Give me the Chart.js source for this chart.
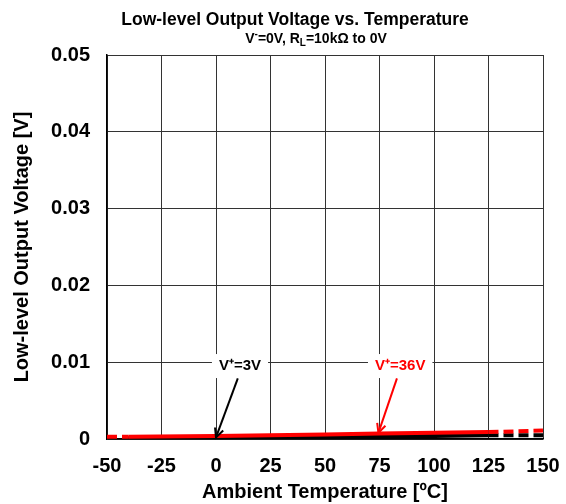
<!DOCTYPE html>
<html>
<head>
<meta charset="utf-8">
<script src="https://cdn.jsdelivr.net/npm/chart.js@4.4.1/dist/chart.umd.min.js"></script>
<style>
  html, body { margin: 0; padding: 0; background: #fff; }
  #wrap { width: 566px; height: 504px; }
</style>
</head>
<body>
<div id="wrap"><canvas id="ourChart" width="566" height="504"></canvas></div>
<script>
// ambient temperature, ºC
var temps = [-50, -40, 0, 25, 50, 75, 100, 125, 150];
// low-level output voltage, V
var vol36 = [0.0003, 0.0003, 0.0004, 0.0005, 0.0006, 0.0007, 0.0008, 0.0009, 0.0011];
var vol3 = [0.0001, 0.0001, 0.0002, 0.0003, 0.0003, 0.0004, 0.0004, 0.0005, 0.0005];

var xTicks = [-50, -25, 0, 25, 50, 75, 100, 125, 150];
var yTicks = [0, 0.01, 0.02, 0.03, 0.04, 0.05];

// measured range is -40..125, outside of it lines are dashed
var solidFrom = -40;
var solidTo = 125;

var FONT = "'Liberation Sans', Arial, sans-serif";

function toPoints(vals) {
    return temps.map(function (t, i) { return {x: t, y: vals[i]}; });
}

function dashOutside(ctx) {
    if (ctx.p0.parsed.x < solidFrom || ctx.p1.parsed.x > solidTo) {
        return [10, 5];
    }
    return undefined;
}

// titles + the two arrow labels
var notes = {
    id: 'notes',
    afterDraw: function (chart) {
        var c = chart.ctx;
        var xs = chart.scales.x;
        var ys = chart.scales.y;
        c.save();
        c.fillStyle = '#000';
        c.textAlign = 'center';
        c.textBaseline = 'alphabetic';
        c.font = 'bold 17.5px ' + FONT;
        c.fillText('Low-level Output Voltage vs. Temperature', 295, 25);

        // sub title with super/sub scripts
        var parts = [
            ['V', 14, 0], ['-', 10, -6], ['=0V, R', 14, 0], ['L', 10, 3], ['=10kΩ to 0V', 14, 0]
        ];
        var total = 0;
        parts.forEach(function (p) {
            c.font = 'bold ' + p[1] + 'px ' + FONT;
            total += c.measureText(p[0]).width;
        });
        var px = 316 - total / 2;
        c.textAlign = 'left';
        parts.forEach(function (p) {
            c.font = 'bold ' + p[1] + 'px ' + FONT;
            c.fillText(p[0], px, 43 + p[2]);
            px += c.measureText(p[0]).width;
        });

        var labels = [
            {text: 'V⁺=3V', color: '#000', at: [11, 0.0095], from: [10, 0.0079], to: [0, 0.0002]},
            {text: 'V⁺=36V', color: '#ff0000', at: [84.5, 0.0095], from: [83, 0.0079], to: [74.5, 0.0008]}
        ];
        labels.forEach(function (l) {
            var lx = xs.getPixelForValue(l.at[0]);
            var ly = ys.getPixelForValue(l.at[1]);
            c.font = 'bold 15px ' + FONT;
            var w = c.measureText(l.text).width;
            c.fillStyle = '#fff';
            c.fillRect(lx - w / 2 - 7, ly - 12, w + 14, 24);
            c.fillStyle = l.color;
            c.textAlign = 'center';
            c.textBaseline = 'middle';
            c.fillText(l.text, lx, ly);

            var x0 = xs.getPixelForValue(l.from[0]);
            var y0 = ys.getPixelForValue(l.from[1]);
            var x1 = xs.getPixelForValue(l.to[0]);
            var y1 = ys.getPixelForValue(l.to[1]);
            c.strokeStyle = l.color;
            c.lineWidth = 2;
            c.beginPath();
            c.moveTo(x0, y0);
            c.lineTo(x1, y1);
            c.stroke();
            var ang = Math.atan2(y1 - y0, x1 - x0);
            var hl = 10;
            c.beginPath();
            c.moveTo(x1 - hl * Math.cos(ang - 0.45), y1 - hl * Math.sin(ang - 0.45));
            c.lineTo(x1, y1);
            c.lineTo(x1 - hl * Math.cos(ang + 0.45), y1 - hl * Math.sin(ang + 0.45));
            c.stroke();
        });
        c.restore();
    }
};

var chartElement = new Chart(document.getElementById('ourChart'), {
    type: 'line',
    data: {
        datasets: [
            {
                label: 'V+=36V',
                data: toPoints(vol36),
                borderColor: '#ff0000',
                borderWidth: 4,
                pointRadius: 0,
                segment: { borderDash: dashOutside }
            },
            {
                label: 'V+=3V',
                data: toPoints(vol3),
                borderColor: '#000000',
                borderWidth: 4,
                pointRadius: 0,
                segment: { borderDash: dashOutside }
            }
        ]
    },
    options: {
        responsive: false,
        animation: false,
        layout: {
            padding: { top: 55, right: 23, left: 0, bottom: 0 }
        },
        plugins: {
            legend: { display: false },
            tooltip: { enabled: false }
        },
        scales: {
            x: {
                type: 'linear',
                min: -50,
                max: 150,
                afterBuildTicks: function (axis) {
                    axis.ticks = xTicks.map(function (v) { return {value: v}; });
                },
                afterFit: function (axis) {
                    axis.height = 65;
                    axis.paddingLeft = 0;
                    axis.paddingRight = 0;
                },
                grid: { color: '#333', lineWidth: 1, drawTicks: false },
                border: { color: '#000', width: 1.5 },
                ticks: {
                    color: '#000',
                    padding: 15,
                    maxRotation: 0,
                    font: { family: FONT, size: 20, weight: 'bold' }
                },
                title: {
                    display: true,
                    text: 'Ambient Temperature [ºC]',
                    color: '#000',
                    padding: { top: 0, bottom: 0 },
                    font: { family: FONT, size: 20, weight: 'bold' }
                }
            },
            y: {
                min: 0,
                max: 0.05,
                afterBuildTicks: function (axis) {
                    axis.ticks = yTicks.map(function (v) { return {value: v}; });
                },
                afterFit: function (axis) {
                    axis.width = 107;
                    axis.paddingTop = 0;
                    axis.paddingBottom = 0;
                },
                grid: { color: '#333', lineWidth: 1, drawTicks: false },
                border: { color: '#000', width: 1.5 },
                ticks: {
                    color: '#000',
                    padding: 17,
                    font: { family: FONT, size: 20, weight: 'bold' },
                    callback: function (v) { return v === 0 ? '0' : v.toFixed(2); }
                },
                title: {
                    display: true,
                    text: 'Low-level Output Voltage [V]',
                    color: '#000',
                    padding: { top: 10, bottom: 0 },
                    font: { family: FONT, size: 20, weight: 'bold' }
                }
            }
        }
    },
    plugins: [notes]
});
</script>
</body>
</html>
